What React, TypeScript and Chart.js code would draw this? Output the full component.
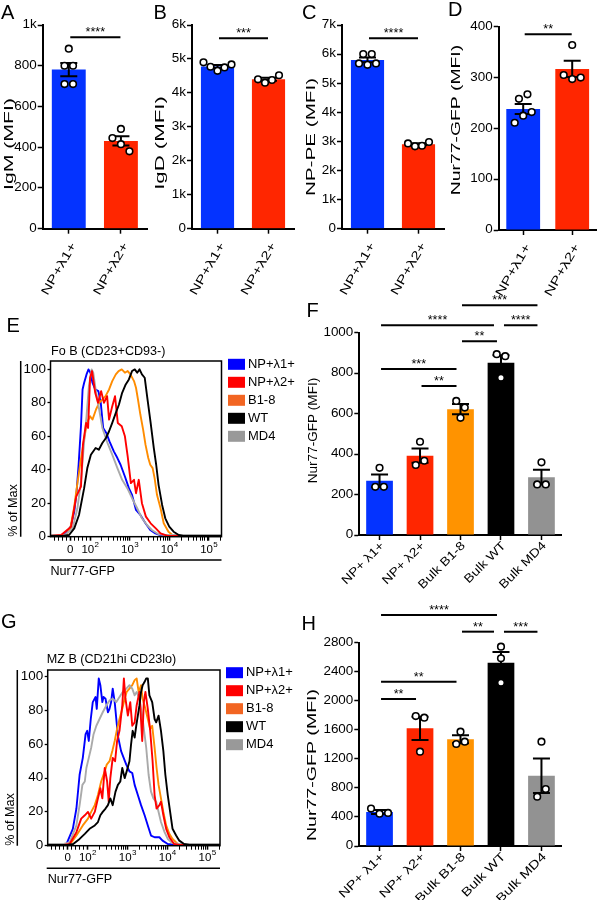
import React, { useEffect, useRef } from "react";
import { Chart, registerables } from "chart.js";

Chart.register(...registerables);
if (typeof document !== "undefined") document.body.style.margin = "0";

const FONT = '"Liberation Sans", Arial, Helvetica, sans-serif';

// ---------- colours ----------
const BAR_BLUE = "#0433ff";
const BAR_RED = "#ff2600";
const BAR_ORANGE = "#ff9300";
const BAR_BLACK = "#000000";
const BAR_GRAY = "#929292";

// ---------- Panel A ----------
const AB_CATEGORIES = ["NP+λ1+", "NP+λ2+"];
const A_MEANS = [781, 431];
const A_SEM = [33, 23];
const A_POINTS = [[884, 800, 800, 710, 710], [490, 445, 415, 380]];
const A_TICKS = [0, 200, 400, 600, 800, 1000];
const A_TICK_LABELS = ["0", "200", "400", "600", "800", "1k"];
const A_SIG = [{ a: 0, b: 1, y: 940, t: "****" }];

// ---------- Panel B ----------
const B_MEANS = [4780, 4400];
const B_SEM = [42, 45];
const B_POINTS = [[4900, 4770, 4650, 4750, 4840], [4400, 4300, 4380, 4520]];
const B_TICKS = [0, 1000, 2000, 3000, 4000, 5000, 6000];
const B_TICK_LABELS = ["0", "1k", "2k", "3k", "4k", "5k", "6k"];
const B_SIG = [{ a: 0, b: 1, y: 5610, t: "***" }];

// ---------- Panel C ----------
const C_MEANS = [5800, 2900];
const C_SEM = [83, 35];
const C_POINTS = [[6000, 6000, 5680, 5630, 5680], [2930, 2830, 2850, 2980]];
const C_TICKS = [0, 1000, 2000, 3000, 4000, 5000, 6000, 7000];
const C_TICK_LABELS = ["0", "1k", "2k", "3k", "4k", "5k", "6k", "7k"];
const C_SIG = [{ a: 0, b: 1, y: 6543, t: "****" }];

// ---------- Panel D ----------
const D_MEANS = [238, 317];
const D_SEM = [10, 16];
const D_POINTS = [[258, 211, 225, 232, 267], [305, 364, 297, 300]];
const D_TICKS = [0, 100, 200, 300, 400];
const D_TICK_LABELS = ["0", "100", "200", "300", "400"];
const D_SIG = [{ a: 0, b: 1, y: 385, t: "**" }];

// ---------- Panel F ----------
const FH_CATEGORIES = ["NP+ λ1+", "NP+ λ2+", "Bulk B1-8", "Bulk WT", "Bulk MD4"];
const F_MEANS = [268, 392, 622, 851, 286];
const F_SEM = [31, 35, 25, 37, 36];
const F_POINTS = [[238, 332, 238], [346, 461, 367], [663, 579, 630], [894, 777, 884], [250, 359, 250]];
const F_TICKS = [0, 200, 400, 600, 800, 1000];
const F_TICK_LABELS = ["0", "200", "400", "600", "800", "1000"];
const F_SIG = [
  { a: 2, b: 4, y: 1136, t: "***" },
  { a: 0, b: 3, y: 1037, t: "****" },
  { a: 3, b: 4, y: 1037, t: "****" },
  { a: 2, b: 3, y: 958, t: "**" },
  { a: 0, b: 2, y: 820, t: "***" },
  { a: 1, b: 2, y: 736, t: "**" },
];

// ---------- Panel H ----------
const H_MEANS = [468, 1621, 1470, 2525, 968];
const H_SEM = [27, 160, 55, 146, 237];
const H_POINTS = [[515, 445, 455], [1790, 1299, 1767], [1405, 1574, 1437], [2745, 2585, 2250], [679, 1437, 785]];
const H_TICKS = [0, 400, 800, 1200, 1600, 2000, 2400, 2800];
const H_TICK_LABELS = ["0", "400", "800", "1200", "1600", "2000", "2400", "2800"];
const H_SIG = [
  { a: 0, b: 3, y: 3182, t: "****" },
  { a: 2, b: 3, y: 2952, t: "**" },
  { a: 3, b: 4, y: 2952, t: "***" },
  { a: 0, b: 2, y: 2263, t: "**" },
  { a: 0, b: 1, y: 2025, t: "**" },
];

// ---------- Histograms (x in display decades: 1.5 = "0", 2 = 10², ...) ----------
type Pt = [number, number];
const HIST_LEGEND = ["NP+λ1+", "NP+λ2+", "B1-8", "WT", "MD4"];
const HIST_LINE_COLORS = ["#0000ff", "#ff0000", "#ff8c00", "#000000", "#aaaaaa"];
const HIST_SWATCH_COLORS = ["#0000ff", "#ff0000", "#f26522", "#000000", "#999999"];
const HIST_Y_TICKS = [0, 20, 40, 60, 80, 100];
const HIST_X_MAJOR = [1.5, 2, 3, 4, 5];
const HIST_X_LABELS = ["0", "10²", "10³", "10⁴", "10⁵"];

const E_BLUE: Pt[] = [[1.0,0.5],[1.22,0.5],[1.39,2],[1.51,6],[1.60,15],[1.66,27],[1.71,43],[1.77,66],[1.81,88],[1.85,92],[1.91,97],[1.96,100],[2.01,98],[2.06,92],[2.13,88],[2.21,87],[2.27,80],[2.33,65],[2.41,62],[2.49,57],[2.60,51],[2.69,47],[2.77,43],[2.88,36],[2.98,29],[3.06,25],[3.16,16],[3.27,13],[3.40,8],[3.52,4],[3.65,2],[3.82,0.5],[5.32,0.5]];
const E_RED: Pt[] = [[1.0,0.5],[1.27,1],[1.52,6],[1.65,24],[1.77,30],[1.82,55],[1.90,68],[1.95,65],[2.00,95],[2.05,99],[2.13,86],[2.20,80],[2.28,87],[2.35,80],[2.43,84],[2.48,70],[2.55,77],[2.63,84],[2.70,68],[2.80,66],[2.88,60],[2.95,48],[3.03,32],[3.11,34],[3.16,26],[3.23,34],[3.31,20],[3.41,12],[3.53,8],[3.66,5],[3.78,2],[3.96,0.5],[5.32,0.5]];
const E_ORANGE: Pt[] = [[1.0,0.5],[1.39,0.5],[1.50,5],[1.60,18],[1.68,32],[1.76,45],[1.84,57],[1.92,68],[2.00,72],[2.06,70],[2.15,76],[2.23,80],[2.31,82],[2.39,84],[2.48,88],[2.56,93],[2.65,97],[2.72,99],[2.80,100],[2.88,98],[2.95,99],[3.02,97],[3.11,93],[3.16,89],[3.21,82],[3.27,73],[3.34,64],[3.40,55],[3.47,47],[3.52,43],[3.58,41],[3.63,35],[3.69,25],[3.78,17],[3.86,8],[3.98,3],[4.11,0.5],[5.32,0.5]];
const E_BLACK: Pt[] = [[1.0,0.5],[1.30,0.5],[1.47,1],[1.60,5],[1.72,13],[1.85,29],[1.93,41],[2.02,49],[2.14,53],[2.22,52],[2.31,56],[2.40,59],[2.48,63],[2.56,68],[2.65,74],[2.73,79],[2.81,86],[2.90,91],[2.98,94],[3.06,99],[3.13,100],[3.19,98],[3.25,100],[3.31,97],[3.38,95],[3.44,84],[3.53,68],[3.61,53],[3.67,43],[3.73,31],[3.82,19],[3.90,11],[4.00,6],[4.11,3],[4.24,1],[4.35,0.5],[5.32,0.5]];
const E_GRAY: Pt[] = [[1.0,1],[1.25,1],[1.39,1.5],[1.56,5],[1.68,17],[1.77,33],[1.85,57],[1.91,72],[1.97,90],[2.04,100],[2.08,98],[2.14,88],[2.23,76],[2.31,65],[2.44,56],[2.56,49],[2.69,41],[2.81,34],[2.94,29],[3.06,23],[3.19,17],[3.31,11],[3.44,7],[3.56,4],[3.73,1.5],[3.90,1],[5.32,1]];

const G_BLUE: Pt[] = [[1.0,0.5],[1.30,0.5],[1.47,1],[1.63,10],[1.72,22],[1.80,42],[1.88,52],[1.95,66],[1.99,68],[2.03,62],[2.08,75],[2.13,85],[2.20,88],[2.23,81],[2.28,99],[2.32,95],[2.37,85],[2.40,88],[2.45,87],[2.51,79],[2.55,81],[2.59,85],[2.63,93],[2.68,85],[2.72,75],[2.76,65],[2.84,56],[2.97,48],[3.05,44],[3.12,43],[3.18,36],[3.26,30],[3.34,24],[3.43,18],[3.51,12],[3.59,6],[3.68,5],[3.80,5],[3.88,3],[4.01,1],[4.2,0.5],[5.32,0.5]];
const G_RED: Pt[] = [[1.0,0.5],[1.40,0.5],[1.55,1],[1.72,8],[1.84,16],[1.93,18],[2.01,20],[2.09,16],[2.18,20],[2.26,28],[2.32,34],[2.37,28],[2.43,46],[2.49,38],[2.53,26],[2.57,40],[2.63,52],[2.69,50],[2.74,62],[2.80,68],[2.87,83],[2.91,99],[2.95,87],[3.01,77],[3.07,85],[3.12,71],[3.18,73],[3.23,83],[3.30,91],[3.37,62],[3.41,85],[3.45,91],[3.51,81],[3.57,68],[3.63,50],[3.68,30],[3.73,22],[3.80,24],[3.84,26],[3.90,18],[3.97,10],[4.05,5],[4.17,1],[4.3,0.5],[5.32,0.5]];
const G_ORANGE: Pt[] = [[1.0,0.5],[1.50,0.5],[1.60,2],[1.72,6],[1.88,12],[2.01,16],[2.09,20],[2.18,24],[2.26,30],[2.34,38],[2.43,44],[2.48,48],[2.55,50],[2.62,56],[2.68,62],[2.73,68],[2.80,75],[2.87,81],[2.93,87],[2.98,91],[3.05,93],[3.12,95],[3.18,98],[3.23,99],[3.28,91],[3.34,95],[3.38,87],[3.45,81],[3.51,75],[3.57,69],[3.62,71],[3.68,58],[3.73,46],[3.78,36],[3.84,28],[3.90,20],[3.97,12],[4.05,7],[4.13,4],[4.26,1],[4.4,0.5],[5.32,0.5]];
const G_BLACK: Pt[] = [[1.0,0.5],[1.50,0.5],[1.64,1],[1.80,4],[1.93,7],[2.05,10],[2.18,12],[2.26,14],[2.32,18],[2.38,20],[2.45,22],[2.51,24],[2.57,28],[2.63,24],[2.70,32],[2.76,36],[2.82,38],[2.87,46],[2.93,40],[2.98,44],[3.05,50],[3.09,60],[3.13,68],[3.18,64],[3.22,71],[3.26,77],[3.30,83],[3.34,91],[3.38,95],[3.43,97],[3.47,99],[3.51,99],[3.55,89],[3.62,85],[3.68,75],[3.72,73],[3.78,77],[3.84,68],[3.90,56],[3.95,42],[4.01,30],[4.07,20],[4.13,10],[4.22,6],[4.30,3],[4.42,1],[4.55,0.5],[5.32,0.5]];
const G_GRAY: Pt[] = [[1.0,1],[1.40,1],[1.55,2],[1.72,12],[1.80,24],[1.87,36],[1.93,38],[1.97,46],[2.03,52],[2.09,58],[2.15,66],[2.22,71],[2.30,75],[2.38,79],[2.47,83],[2.55,86],[2.63,87],[2.72,85],[2.80,88],[2.88,91],[2.97,93],[3.05,95],[3.12,93],[3.18,89],[3.23,91],[3.30,87],[3.38,75],[3.47,58],[3.53,42],[3.59,32],[3.65,28],[3.72,26],[3.78,20],[3.84,14],[3.93,8],[4.01,4],[4.13,1.5],[4.3,1],[5.32,1]];

const HIST_X_MIN = 1.0;
const HIST_X_MAX = 5.32;

// ---------- helpers ----------
type TxtOpt = { size?: number; sx?: number; align?: CanvasTextAlign; base?: CanvasTextBaseline; rot?: number; color?: string };
function txt(ctx: CanvasRenderingContext2D, s: string, x: number, y: number, o: TxtOpt = {}) {
  ctx.save();
  ctx.translate(x, y);
  if (o.rot) ctx.rotate(o.rot);
  ctx.scale(o.sx ?? 1, 1);
  ctx.font = `${o.size ?? 12}px ${FONT}`;
  ctx.fillStyle = o.color ?? "#000";
  ctx.textAlign = o.align ?? "left";
  ctx.textBaseline = o.base ?? "alphabetic";
  ctx.fillText(s, 0, 0);
  ctx.restore();
}

// horizontal offsets (px) for overlapping dots, like a column-scatter layout
function swarmOffsets(vals: number[], pxPerUnit: number): number[] {
  const thresh = 8.5;
  const idx = vals.map((_, i) => i).sort((a, b) => vals[a] - vals[b]);
  const groups: number[][] = [];
  let cur: number[] = [];
  idx.forEach((i, k) => {
    if (k > 0 && (vals[i] - vals[idx[k - 1]]) * pxPerUnit >= thresh) {
      groups.push(cur);
      cur = [];
    }
    cur.push(i);
  });
  groups.push(cur);
  const offs = vals.map(() => 0);
  groups.forEach((g) => {
    const ordered = [...g].sort((a, b) => a - b);
    const sp = ordered.length >= 4 ? 7 : 8.5;
    ordered.forEach((i, j) => (offs[i] = (j - (ordered.length - 1) / 2) * sp));
  });
  return offs;
}

type Box = { left: number; top: number; w: number; h: number };
type Area = { l: number; t: number; r: number; b: number };
type Sig = { a: number; b: number; y: number; t: string };

type BarSpec = {
  cats: string[]; means: number[]; sem: number[]; pts: number[][]; colors: string[];
  ticks: number[]; tickLabels: string[]; yTitle: string; sig: Sig[];
  box: Box; area: Area; barPct: number;
  xRot: number; xSx: number; xDx: number; xDy: number;
  titleX: number; titleCY: number; titleSx: number; trimR: number;
};

function barPlugin(s: BarSpec) {
  return {
    id: "barDecor",
    afterDatasetsDraw(chart: any) {
      const ctx = chart.ctx as CanvasRenderingContext2D;
      const xs = chart.scales.x, ys = chart.scales.y;
      const ppu = Math.abs(ys.getPixelForValue(0) - ys.getPixelForValue(1));
      ctx.save();
      ctx.strokeStyle = "#000";
      ctx.lineWidth = 2;
      // error bars (mean ± SEM)
      s.means.forEach((m, i) => {
        const x = xs.getPixelForValue(i);
        const yt = ys.getPixelForValue(m + s.sem[i]);
        const yb = ys.getPixelForValue(m - s.sem[i]);
        ctx.beginPath();
        ctx.moveTo(x, yt); ctx.lineTo(x, yb);
        ctx.moveTo(x - 8.5, yt); ctx.lineTo(x + 8.5, yt);
        ctx.moveTo(x - 8.5, yb); ctx.lineTo(x + 8.5, yb);
        ctx.stroke();
      });
      // individual points
      ctx.lineWidth = 1.6;
      ctx.fillStyle = "#fff";
      s.pts.forEach((vals, i) => {
        const offs = swarmOffsets(vals, ppu);
        const cx = xs.getPixelForValue(i);
        vals.forEach((v, j) => {
          ctx.beginPath();
          ctx.arc(cx + offs[j], ys.getPixelForValue(v), 3.3, 0, Math.PI * 2);
          ctx.fill();
          ctx.stroke();
        });
      });
      ctx.restore();
    },
    afterDraw(chart: any) {
      const ctx = chart.ctx as CanvasRenderingContext2D;
      const xs = chart.scales.x, ys = chart.scales.y;
      const ca = chart.chartArea;
      // significance brackets
      ctx.save();
      ctx.strokeStyle = "#000";
      ctx.lineWidth = 2;
      s.sig.forEach((g) => {
        const sharedR = s.sig.some((o) => o !== g && o.y === g.y && o.a === g.b);
        const sharedL = s.sig.some((o) => o !== g && o.y === g.y && o.b === g.a);
        const x1 = xs.getPixelForValue(g.a) + (sharedL ? 3 : 1.5);
        const x2 = xs.getPixelForValue(g.b) - (sharedR ? 7 : s.trimR);
        const y = ys.getPixelForValue(g.y);
        ctx.beginPath();
        ctx.moveTo(x1, y); ctx.lineTo(x2, y);
        ctx.stroke();
        txt(ctx, g.t, (x1 + x2) / 2, y - 1, { align: "center", base: "alphabetic", sx: 1.05, size: 12 });
      });
      ctx.restore();
      // y tick labels
      s.ticks.forEach((v, i) => {
        txt(ctx, s.tickLabels[i], ca.left - 6, ys.getPixelForValue(v), { align: "right", base: "middle", sx: 1.12 });
      });
      // y title
      txt(ctx, s.yTitle, s.titleX, s.titleCY, { align: "center", base: "middle", rot: -Math.PI / 2, sx: s.titleSx });
      // x labels
      s.cats.forEach((c, i) => {
        const px = xs.getPixelForValue(i);
        txt(ctx, c, px + s.xDx, ca.bottom + s.xDy, { align: "right", base: "middle", rot: -s.xRot, sx: s.xSx });
      });
    },
  };
}

function barConfig(s: BarSpec): any {
  const yMax = s.ticks[s.ticks.length - 1];
  return {
    type: "bar",
    data: {
      labels: s.cats,
      datasets: [
        { data: s.means, backgroundColor: s.colors, barPercentage: s.barPct, categoryPercentage: 1, grouped: false },
      ],
    },
    options: {
      animation: false, responsive: false, maintainAspectRatio: false, devicePixelRatio: 1, events: [],
      layout: { padding: { left: 0, top: s.area.t, right: s.box.w - s.area.r, bottom: 0 } },
      plugins: { legend: { display: false }, tooltip: { enabled: false }, title: { display: false } },
      scales: {
        x: {
          type: "category", offset: true,
          grid: { display: true, drawOnChartArea: false, drawTicks: true, tickLength: 5, offset: false, color: "#000", tickColor: "#000", tickWidth: 1.5 },
          border: { display: true, color: "#000", width: 2 },
          ticks: { display: false },
          afterFit: (sc: any) => { sc.height = s.box.h - s.area.b; },
        },
        y: {
          type: "linear", min: 0, max: yMax,
          afterBuildTicks: (sc: any) => { sc.ticks = s.ticks.map((v) => ({ value: v })); },
          grid: { display: true, drawOnChartArea: false, drawTicks: true, tickLength: 5, color: "#000", tickColor: "#000", tickWidth: 1.5 },
          border: { display: true, color: "#000", width: 2 },
          ticks: { display: false },
          afterFit: (sc: any) => { sc.width = s.area.l; },
        },
      },
    },
    plugins: [barPlugin(s)],
  };
}

type HistSpec = {
  title: string; series: Pt[][]; z: number[]; box: Box; area: Area; yMax: number;
  titleDx: number; titleDy: number; legDy: number; legDx: number; legTx: number;
  outerDx: number; outerDy: number; xLabDy: number; xTitleDy: number;
};

function drawPow(ctx: CanvasRenderingContext2D, label: string, x: number, y: number) {
  const SUP = "⁰¹²³⁴⁵⁶⁷⁸⁹";
  const last = label.charAt(label.length - 1);
  const e = SUP.indexOf(last);
  ctx.save();
  ctx.fillStyle = "#000";
  ctx.textBaseline = "middle";
  ctx.textAlign = "left";
  if (e < 0) {
    ctx.font = `11.5px ${FONT}`;
    const w = ctx.measureText(label).width;
    ctx.fillText(label, x - w / 2, y);
  } else {
    const base = label.slice(0, -1);
    ctx.font = `11.5px ${FONT}`;
    const wb = ctx.measureText(base).width;
    ctx.font = `8px ${FONT}`;
    const we = ctx.measureText(String(e)).width;
    const x0 = x - (wb + we) / 2;
    ctx.font = `11.5px ${FONT}`;
    ctx.fillText(base, x0, y);
    ctx.font = `8px ${FONT}`;
    ctx.fillText(String(e), x0 + wb + 0.3, y - 5);
  }
  ctx.restore();
}

function histPlugin(h: HistSpec) {
  return {
    id: "histDecor",
    afterDraw(chart: any) {
      const ctx = chart.ctx as CanvasRenderingContext2D;
      const ca = chart.chartArea;
      const xs = chart.scales.x, ys = chart.scales.y;
      ctx.save();
      ctx.strokeStyle = "#000";
      ctx.lineWidth = 1.5;
      ctx.strokeRect(ca.left, ca.top, ca.right - ca.left, ca.bottom - ca.top);
      ctx.beginPath();
      ctx.moveTo(ca.left - h.outerDx, ca.top);
      ctx.lineTo(ca.left - h.outerDx, ca.bottom);
      ctx.moveTo(ca.left - 1, ca.bottom + h.outerDy);
      ctx.lineTo(ca.right, ca.bottom + h.outerDy);
      ctx.stroke();
      ctx.restore();
      txt(ctx, h.title, ca.left + h.titleDx, ca.top + h.titleDy, { base: "middle", sx: 1.05 });
      HIST_Y_TICKS.forEach((v) => txt(ctx, String(v), ca.left - 4.5, ys.getPixelForValue(v), { align: "right", base: "middle", sx: 1.12 }));
      HIST_X_MAJOR.forEach((v, i) => drawPow(ctx, HIST_X_LABELS[i], xs.getPixelForValue(v), ca.bottom + h.xLabDy));
      txt(ctx, "% of Max", ca.left - 37, ca.bottom, { base: "middle", rot: -Math.PI / 2, sx: 1.05 });
      txt(ctx, "Nur77-GFP", ca.left, ca.bottom + h.xTitleDy, { base: "middle", sx: 1.05 });
      HIST_LEGEND.forEach((lab, i) => {
        const cy = ca.top + h.legDy + i * 18;
        ctx.fillStyle = HIST_SWATCH_COLORS[i];
        ctx.fillRect(ca.right + h.legDx, cy - 5.5, 17, 11);
        txt(ctx, lab, ca.right + h.legTx, cy, { base: "middle", sx: 1.08 });
      });
    },
  };
}

function histConfig(h: HistSpec): any {
  const minor: number[] = [1.1, 1.2, 1.3, 1.4, 1.6, 1.7, 1.8, 1.9];
  for (let d = 2; d <= 5; d++) for (let k = 2; k <= 9; k++) { const v = d + Math.log10(k); if (v < HIST_X_MAX) minor.push(v); }
  const ticksX = [...HIST_X_MAJOR, ...minor].sort((a, b) => a - b);
  const isMajor = (v: number) => HIST_X_MAJOR.some((m) => Math.abs(m - v) < 1e-6);
  return {
    type: "line",
    data: {
      datasets: h.series.map((d, i) => ({
        label: HIST_LEGEND[i],
        data: d.map(([x, y]) => ({ x, y })),
        borderColor: HIST_LINE_COLORS[i],
        borderWidth: 1.9,
        pointRadius: 0,
        tension: 0,
        fill: false,
        borderJoinStyle: "round",
        order: h.z[i],
      })),
    },
    options: {
      animation: false, responsive: false, maintainAspectRatio: false, devicePixelRatio: 1, events: [],
      layout: { padding: { left: 0, top: h.area.t, right: h.box.w - h.area.r, bottom: 0 } },
      plugins: { legend: { display: false }, tooltip: { enabled: false }, title: { display: false } },
      scales: {
        x: {
          type: "linear", min: HIST_X_MIN, max: HIST_X_MAX,
          afterBuildTicks: (sc: any) => { sc.ticks = ticksX.map((v) => ({ value: v })); },
          ticks: { display: false },
          border: { display: false },
          grid: { display: true, drawOnChartArea: false, drawTicks: true, tickLength: 4, color: "#000", tickColor: "#000", tickWidth: (c: any) => (c.tick && isMajor(c.tick.value) ? 1.6 : 1) },
          afterFit: (sc: any) => { sc.height = h.box.h - h.area.b; },
        },
        y: {
          type: "linear", min: 0, max: h.yMax,
          afterBuildTicks: (sc: any) => { sc.ticks = HIST_Y_TICKS.map((v) => ({ value: v })); },
          ticks: { display: false },
          border: { display: false },
          grid: { display: true, drawOnChartArea: false, drawTicks: true, tickLength: 3, color: "#000", tickColor: "#000", tickWidth: 1.3 },
          afterFit: (sc: any) => { sc.width = h.area.l; },
        },
      },
    },
    plugins: [histPlugin(h)],
  };
}

// ---------- specs ----------
const TWO = [BAR_BLUE, BAR_RED];
const FIVE = [BAR_BLUE, BAR_RED, BAR_ORANGE, BAR_BLACK, BAR_GRAY];
const ROT60 = Math.PI / 3;
const ROT45 = Math.PI / 4;

const SPEC_A: BarSpec = { cats: AB_CATEGORIES, means: A_MEANS, sem: A_SEM, pts: A_POINTS, colors: TWO, ticks: A_TICKS, tickLabels: A_TICK_LABELS, yTitle: "IgM (MFI)", sig: A_SIG,
  box: { left: 0, top: 0, w: 150, h: 310 }, area: { l: 42.7, t: 25, r: 147, b: 228.7 }, barPct: 0.65, xRot: ROT60, xSx: 1.35, xDx: 5, xDy: 15, titleX: 10, titleCY: 144, titleSx: 1.77, trimR: 0.5 };
const SPEC_B: BarSpec = { cats: AB_CATEGORIES, means: B_MEANS, sem: B_SEM, pts: B_POINTS, colors: TWO, ticks: B_TICKS, tickLabels: B_TICK_LABELS, yTitle: "IgD (MFI)", sig: B_SIG,
  box: { left: 150, top: 0, w: 150, h: 310 }, area: { l: 42, t: 25, r: 144, b: 228.7 }, barPct: 0.65, xRot: ROT60, xSx: 1.35, xDx: 5, xDy: 15, titleX: 11, titleCY: 143, titleSx: 1.85, trimR: 0.5 };
const SPEC_C: BarSpec = { cats: AB_CATEGORIES, means: C_MEANS, sem: C_SEM, pts: C_POINTS, colors: TWO, ticks: C_TICKS, tickLabels: C_TICK_LABELS, yTitle: "NP-PE (MFI)", sig: C_SIG,
  box: { left: 300, top: 0, w: 150, h: 310 }, area: { l: 42, t: 25, r: 144, b: 228.7 }, barPct: 0.65, xRot: ROT60, xSx: 1.35, xDx: 5, xDy: 15, titleX: 11.5, titleCY: 137, titleSx: 1.72, trimR: 0.5 };
const SPEC_D: BarSpec = { cats: AB_CATEGORIES, means: D_MEANS, sem: D_SEM, pts: D_POINTS, colors: TWO, ticks: D_TICKS, tickLabels: D_TICK_LABELS, yTitle: "Nur77-GFP (MFI)", sig: D_SIG,
  box: { left: 450, top: 0, w: 150, h: 310 }, area: { l: 48.7, t: 26.7, r: 146.7, b: 230 }, barPct: 0.69, xRot: ROT60, xSx: 1.35, xDx: 5, xDy: 15, titleX: 6.5, titleCY: 120, titleSx: 1.61, trimR: 0.5 };
const SPEC_F: BarSpec = { cats: FH_CATEGORIES, means: F_MEANS, sem: F_SEM, pts: F_POINTS, colors: FIVE, ticks: F_TICKS, tickLabels: F_TICK_LABELS, yTitle: "Nur77-GFP (MFI)", sig: F_SIG,
  box: { left: 300, top: 290, w: 300, h: 310 }, area: { l: 59.3, t: 42.7, r: 261.7, b: 245 }, barPct: 0.66, xRot: ROT45, xSx: 1.17, xDx: 3, xDy: 9, titleX: 14, titleCY: 140.5, titleSx: 1.13, trimR: 4 };
const SPEC_H: BarSpec = { cats: FH_CATEGORIES, means: H_MEANS, sem: H_SEM, pts: H_POINTS, colors: FIVE, ticks: H_TICKS, tickLabels: H_TICK_LABELS, yTitle: "Nur77-GFP (MFI)", sig: H_SIG,
  box: { left: 300, top: 600, w: 300, h: 300 }, area: { l: 59.3, t: 42.7, r: 261.7, b: 246 }, barPct: 0.66, xRot: ROT45, xSx: 1.25, xDx: 3, xDy: 9, titleX: 13, titleCY: 165, titleSx: 1.63, trimR: 4 };

const HIST_Z = [5, 2, 4, 1, 3];
const SPEC_E: HistSpec = { title: "Fo B (CD23+CD93-)", series: [E_BLUE, E_RED, E_ORANGE, E_BLACK, E_GRAY], z: HIST_Z,
  box: { left: 0, top: 310, w: 300, h: 290 }, area: { l: 50.5, t: 51, r: 221.5, b: 226.7 }, yMax: 105,
  titleDx: 0.5, titleDy: -9.5, legDy: 3.3, legDx: 6.5, legTx: 26.5, outerDx: 29.8, outerDy: 23.3, xLabDy: 13.3, xTitleDy: 35 };
const SPEC_G: HistSpec = { title: "MZ B (CD21hi CD23lo)", series: [G_BLUE, G_RED, G_ORANGE, G_BLACK, G_GRAY], z: HIST_Z,
  box: { left: 0, top: 610, w: 300, h: 290 }, area: { l: 47.7, t: 60, r: 220, b: 235.7 }, yMax: 104,
  titleDx: -1, titleDy: -10, legDy: 2.7, legDx: 6, legTx: 26, outerDx: 30.4, outerDy: 22.6, xLabDy: 12.3, xTitleDy: 33.6 };

const LETTERS = [
  { t: "A", x: 1, y: 2 }, { t: "B", x: 153.5, y: 2 }, { t: "C", x: 302, y: 2 }, { t: "D", x: 448, y: -1 },
  { t: "E", x: 6.5, y: 315 }, { t: "F", x: 306.5, y: 300 }, { t: "G", x: 1, y: 611 }, { t: "H", x: 301.5, y: 613 },
];

function ChartCanvas({ make, box }: { make: () => any; box: Box }) {
  const ref = useRef<HTMLCanvasElement>(null);
  useEffect(() => {
    const chart = new Chart(ref.current as HTMLCanvasElement, make());
    return () => chart.destroy();
  }, []);
  return (
    <canvas ref={ref} width={box.w} height={box.h}
      style={{ position: "absolute", left: box.left, top: box.top, width: box.w, height: box.h }} />
  );
}

export default function App() {
  const bars = [SPEC_A, SPEC_B, SPEC_C, SPEC_D, SPEC_F, SPEC_H];
  const hists = [SPEC_E, SPEC_G];
  return (
    <div style={{ position: "relative", width: 600, height: 900, background: "#fff", overflow: "hidden", fontFamily: FONT }}>
      {hists.map((h, i) => <ChartCanvas key={"h" + i} make={() => histConfig(h)} box={h.box} />)}
      {bars.map((s, i) => <ChartCanvas key={"b" + i} make={() => barConfig(s)} box={s.box} />)}
      {LETTERS.map((l) => (
        <div key={l.t} style={{ position: "absolute", left: l.x, top: l.y, fontSize: 20, lineHeight: "20px", color: "#000" }}>{l.t}</div>
      ))}
    </div>
  );
}
